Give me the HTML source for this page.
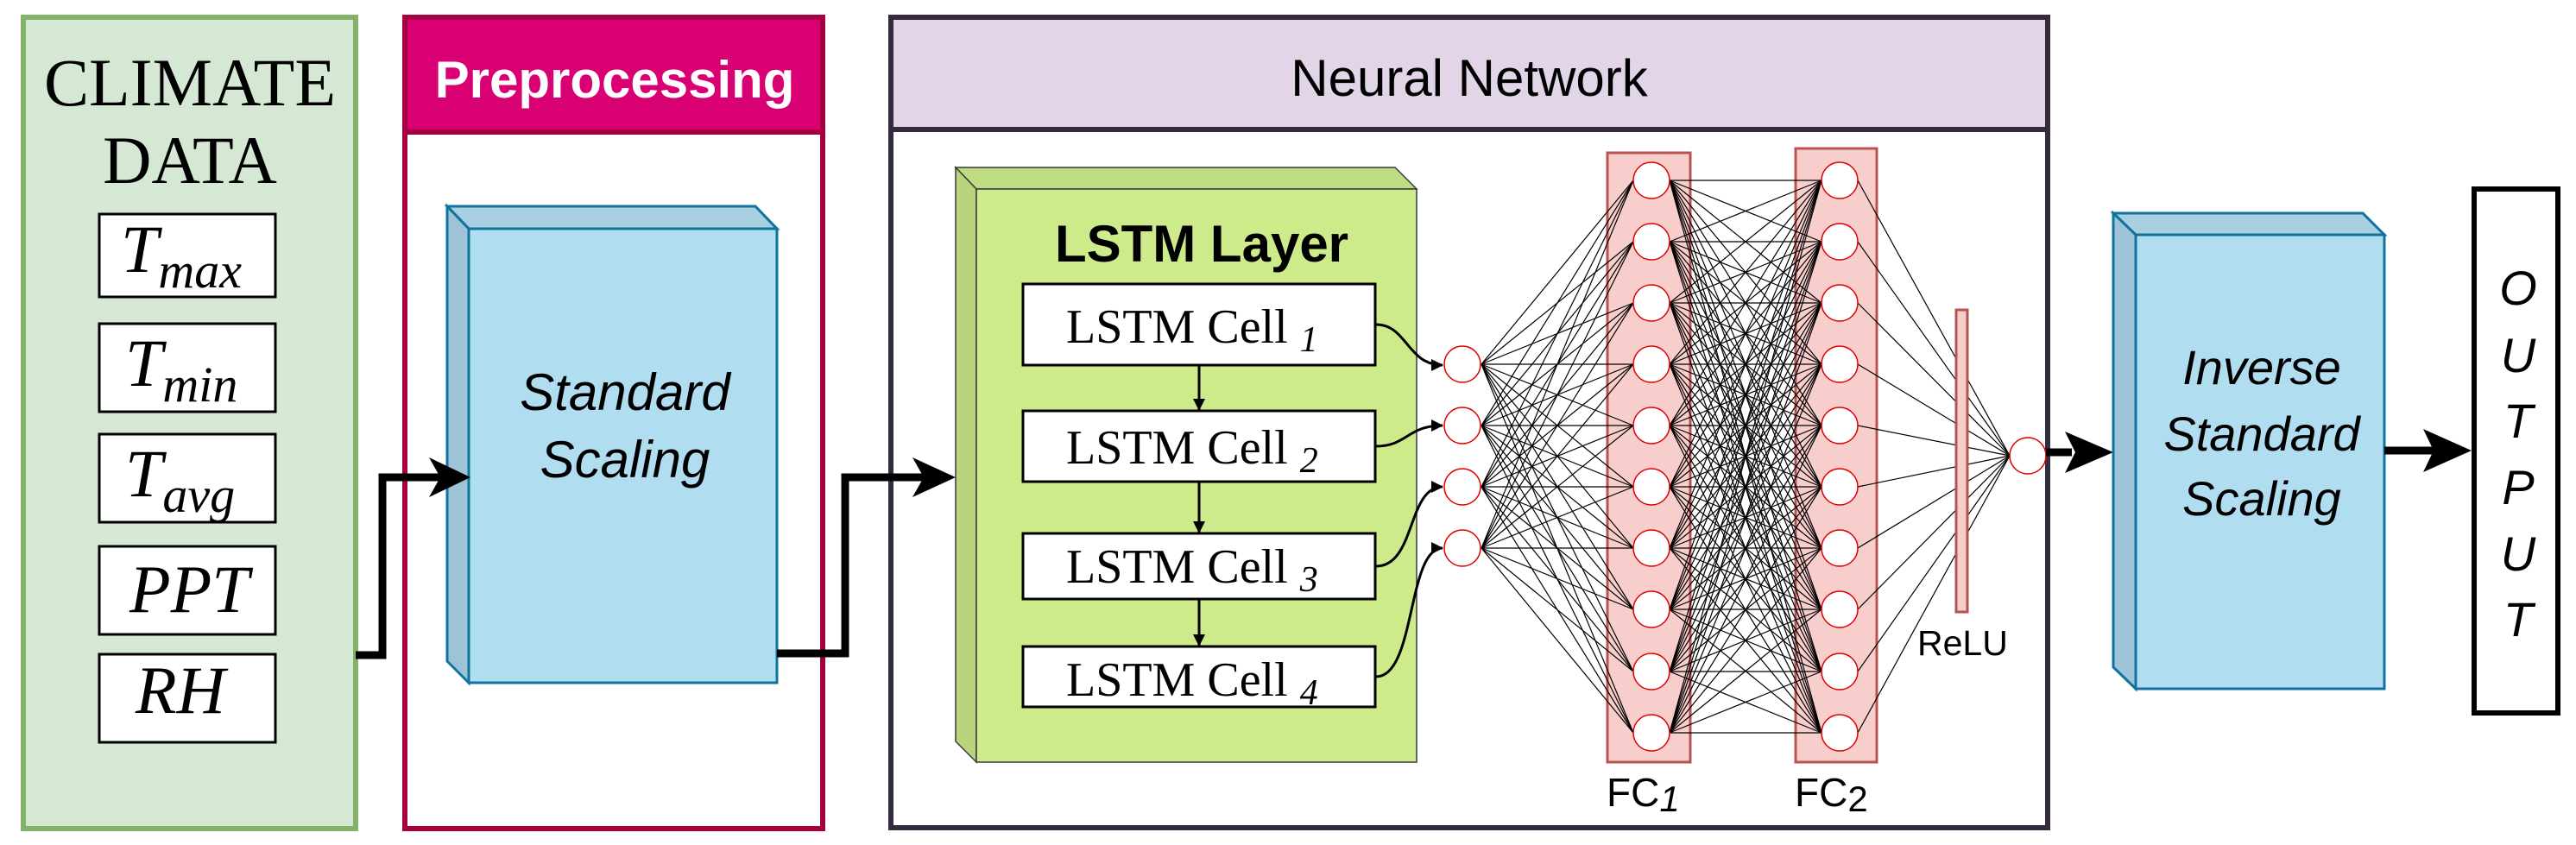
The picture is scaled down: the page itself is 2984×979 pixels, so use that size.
<!DOCTYPE html>
<html><head><meta charset="utf-8"><style>html,body{margin:0;padding:0;background:#fff}svg{display:block}</style></head>
<body>
<svg width="2984" height="979" viewBox="0 0 2984 979" xmlns="http://www.w3.org/2000/svg">
<defs>
<marker id="ah" markerWidth="14" markerHeight="14" refX="13" refY="7" orient="auto" markerUnits="userSpaceOnUse"><path d="M0,0 L14,7 L0,14 Z" fill="#000"/></marker>
</defs>
<!-- Climate -->
<rect x="27" y="20" width="385" height="940" fill="#d5e8d4" stroke="#82b366" stroke-width="6"/>
<g font-family="Liberation Serif, serif" fill="#000">
<text x="220" y="122" font-size="78" text-anchor="middle">CLIMATE</text>
<text x="220" y="212" font-size="78" text-anchor="middle">DATA</text>
</g>
<g fill="#fff" stroke="#000" stroke-width="3">
<rect x="115" y="248" width="204" height="96"/>
<rect x="115" y="375" width="204" height="102"/>
<rect x="115" y="503" width="204" height="102"/>
<rect x="115" y="633" width="204" height="102"/>
<rect x="115" y="758" width="204" height="102"/>
</g>
<g font-family="Liberation Serif, serif" font-style="italic" fill="#000">
<text x="140" y="315" font-size="78">T<tspan font-size="58" dy="18">max</tspan></text>
<text x="145" y="447" font-size="78">T<tspan font-size="58" dy="18">min</tspan></text>
<text x="145" y="575" font-size="78">T<tspan font-size="58" dy="18">avg</tspan></text>
<text x="150" y="709" font-size="78">PPT</text>
<text x="157" y="826" font-size="78">RH</text>
</g>
<!-- Preprocessing -->
<rect x="469" y="20" width="484" height="940" fill="#fff" stroke="#a50040" stroke-width="6"/>
<rect x="469" y="20" width="484" height="133" fill="#d80073" stroke="#a50040" stroke-width="6"/>
<text x="712" y="113" font-family="Liberation Sans, sans-serif" font-weight="bold" font-size="60" fill="#fff" text-anchor="middle">Preprocessing</text>
<path d="M518,239 L875,239 L900,265 L543,265 Z" fill="#a8d0e0" stroke="#10739e" stroke-width="3"/>
<path d="M518,239 L543,265 L543,791 L518,766 Z" fill="#9fc3d6" stroke="#10739e" stroke-width="3"/>
<rect x="543" y="265" width="357" height="526" fill="#b1ddf0" stroke="#10739e" stroke-width="3"/>
<g font-family="Liberation Sans, sans-serif" font-style="italic" font-size="60" fill="#000" text-anchor="middle">
<text x="724" y="475">Standard</text><text x="724" y="553">Scaling</text>
</g>
<polyline points="412,759 443,759 443,553 520,553" fill="none" stroke="#000" stroke-width="9"/>
<path d="M497,530 L545,553 L497,576 L510,553 Z" fill="#000"/>
<!-- NN -->
<rect x="1032" y="20" width="1340" height="939" fill="#fff" stroke="#342b3e" stroke-width="6"/>
<rect x="1032" y="20" width="1340" height="130" fill="#e1d5e7" stroke="#342b3e" stroke-width="6"/>
<text x="1702" y="111" font-family="Liberation Sans, sans-serif" font-size="60" fill="#000" text-anchor="middle">Neural Network</text>
<polyline points="900,757 979,757 979,553 1085,553" fill="none" stroke="#000" stroke-width="9"/>
<path d="M1057,530 L1107,553 L1057,576 L1070,553 Z" fill="#000"/>
<!-- LSTM -->
<path d="M1107,194 L1616,194 L1641,219 L1131,219 Z" fill="#c0dc83" stroke="#36393d" stroke-width="1.5"/>
<path d="M1107,194 L1131,219 L1131,883 L1107,859 Z" fill="#b9d47d" stroke="#36393d" stroke-width="1.5"/>
<rect x="1131" y="219" width="510" height="664" fill="#cdeb8b" stroke="#36393d" stroke-width="1.5"/>
<text x="1392" y="303" font-family="Liberation Sans, sans-serif" font-weight="bold" font-size="60" fill="#000" text-anchor="middle">LSTM Layer</text>
<g fill="#fff" stroke="#000" stroke-width="3">
<rect x="1185" y="329" width="408" height="94"/>
<rect x="1185" y="476" width="408" height="82"/>
<rect x="1185" y="618" width="408" height="76"/>
<rect x="1185" y="749" width="408" height="70"/>
</g>
<g font-family="Liberation Serif, serif" font-size="56" fill="#000">
<text x="1235" y="397">LSTM Cell <tspan font-style="italic" font-size="42" dy="10">1</tspan></text>
<text x="1235" y="537">LSTM Cell <tspan font-style="italic" font-size="42" dy="10">2</tspan></text>
<text x="1235" y="675">LSTM Cell <tspan font-style="italic" font-size="42" dy="10">3</tspan></text>
<text x="1235" y="806">LSTM Cell <tspan font-style="italic" font-size="42" dy="10">4</tspan></text>
</g>
<g stroke="#000" stroke-width="3" fill="none" marker-end="url(#ah)">
<line x1="1389" y1="423" x2="1389" y2="475"/>
<line x1="1389" y1="558" x2="1389" y2="617"/>
<line x1="1389" y1="694" x2="1389" y2="748"/>
<path d="M1594,376 C1630,376 1630,423 1671,423"/>
<path d="M1594,517 C1630,517 1630,493 1671,493"/>
<path d="M1594,656 C1640,656 1630,564 1671,564"/>
<path d="M1594,784 C1640,784 1630,635 1671,635"/>
</g>
<!-- FC rects -->
<rect x="1862" y="177" width="96" height="706" fill="#f8cecc" stroke="#b85450" stroke-width="3"/>
<rect x="2080" y="172" width="94" height="711" fill="#f8cecc" stroke="#b85450" stroke-width="3"/>
<!-- connections -->
<g fill="none" stroke="#000" stroke-width="1.2">
<polyline points="1716,422 1892,209 1716,422 1892,280 1716,422 1892,351 1716,422 1892,422 1716,422 1892,493 1716,422 1892,564 1716,422 1892,635 1716,422 1892,706 1716,422 1892,778 1716,422 1892,849"/>
<polyline points="1716,493 1892,209 1716,493 1892,280 1716,493 1892,351 1716,493 1892,422 1716,493 1892,493 1716,493 1892,564 1716,493 1892,635 1716,493 1892,706 1716,493 1892,778 1716,493 1892,849"/>
<polyline points="1716,564 1892,209 1716,564 1892,280 1716,564 1892,351 1716,564 1892,422 1716,564 1892,493 1716,564 1892,564 1716,564 1892,635 1716,564 1892,706 1716,564 1892,778 1716,564 1892,849"/>
<polyline points="1716,635 1892,209 1716,635 1892,280 1716,635 1892,351 1716,635 1892,422 1716,635 1892,493 1716,635 1892,564 1716,635 1892,635 1716,635 1892,706 1716,635 1892,778 1716,635 1892,849"/>
<polyline points="1934,209 2110,209 1934,209 2110,280 1934,209 2110,351 1934,209 2110,422 1934,209 2110,493 1934,209 2110,564 1934,209 2110,635 1934,209 2110,706 1934,209 2110,778 1934,209 2110,849"/>
<polyline points="1934,280 2110,209 1934,280 2110,280 1934,280 2110,351 1934,280 2110,422 1934,280 2110,493 1934,280 2110,564 1934,280 2110,635 1934,280 2110,706 1934,280 2110,778 1934,280 2110,849"/>
<polyline points="1934,351 2110,209 1934,351 2110,280 1934,351 2110,351 1934,351 2110,422 1934,351 2110,493 1934,351 2110,564 1934,351 2110,635 1934,351 2110,706 1934,351 2110,778 1934,351 2110,849"/>
<polyline points="1934,422 2110,209 1934,422 2110,280 1934,422 2110,351 1934,422 2110,422 1934,422 2110,493 1934,422 2110,564 1934,422 2110,635 1934,422 2110,706 1934,422 2110,778 1934,422 2110,849"/>
<polyline points="1934,493 2110,209 1934,493 2110,280 1934,493 2110,351 1934,493 2110,422 1934,493 2110,493 1934,493 2110,564 1934,493 2110,635 1934,493 2110,706 1934,493 2110,778 1934,493 2110,849"/>
<polyline points="1934,564 2110,209 1934,564 2110,280 1934,564 2110,351 1934,564 2110,422 1934,564 2110,493 1934,564 2110,564 1934,564 2110,635 1934,564 2110,706 1934,564 2110,778 1934,564 2110,849"/>
<polyline points="1934,635 2110,209 1934,635 2110,280 1934,635 2110,351 1934,635 2110,422 1934,635 2110,493 1934,635 2110,564 1934,635 2110,635 1934,635 2110,706 1934,635 2110,778 1934,635 2110,849"/>
<polyline points="1934,706 2110,209 1934,706 2110,280 1934,706 2110,351 1934,706 2110,422 1934,706 2110,493 1934,706 2110,564 1934,706 2110,635 1934,706 2110,706 1934,706 2110,778 1934,706 2110,849"/>
<polyline points="1934,778 2110,209 1934,778 2110,280 1934,778 2110,351 1934,778 2110,422 1934,778 2110,493 1934,778 2110,564 1934,778 2110,635 1934,778 2110,706 1934,778 2110,778 1934,778 2110,849"/>
<polyline points="1934,849 2110,209 1934,849 2110,280 1934,849 2110,351 1934,849 2110,422 1934,849 2110,493 1934,849 2110,564 1934,849 2110,635 1934,849 2110,706 1934,849 2110,778 1934,849 2110,849"/>
<polyline points="2152,209 2328,528 2152,280 2328,528 2152,351 2328,528 2152,422 2328,528 2152,493 2328,528 2152,564 2328,528 2152,635 2328,528 2152,706 2328,528 2152,778 2328,528 2152,849 2328,528"/>
</g>
<rect x="2266" y="359" width="13" height="350" fill="#f8cecc" stroke="#b85450" stroke-width="3"/>
<!-- nodes -->
<g fill="#fff" stroke="#e00000" stroke-width="1.5">
<circle cx="1694" cy="422" r="21"/><circle cx="1694" cy="493" r="21"/><circle cx="1694" cy="564" r="21"/><circle cx="1694" cy="635" r="21"/>
<circle cx="1913" cy="209" r="21"/><circle cx="1913" cy="280" r="21"/><circle cx="1913" cy="351" r="21"/><circle cx="1913" cy="422" r="21"/><circle cx="1913" cy="493" r="21"/><circle cx="1913" cy="564" r="21"/><circle cx="1913" cy="635" r="21"/><circle cx="1913" cy="706" r="21"/><circle cx="1913" cy="778" r="21"/><circle cx="1913" cy="849" r="21"/>
<circle cx="2131" cy="209" r="21"/><circle cx="2131" cy="280" r="21"/><circle cx="2131" cy="351" r="21"/><circle cx="2131" cy="422" r="21"/><circle cx="2131" cy="493" r="21"/><circle cx="2131" cy="564" r="21"/><circle cx="2131" cy="635" r="21"/><circle cx="2131" cy="706" r="21"/><circle cx="2131" cy="778" r="21"/><circle cx="2131" cy="849" r="21"/>
<circle cx="2349" cy="528" r="21"/>
</g>
<g font-family="Liberation Sans, sans-serif" fill="#000" font-size="46">
<text x="1861" y="934">FC<tspan font-style="italic" font-size="42" dy="6">1</tspan></text>
<text x="2079" y="934">FC<tspan font-size="42" dy="6">2</tspan></text>
<text x="2221" y="759" font-size="41">ReLU</text>
</g>
<!-- arrow 3 -->
<line x1="2370" y1="524" x2="2400" y2="524" stroke="#000" stroke-width="9"/>
<path d="M2392,500 L2448,524 L2392,548 L2404,524 Z" fill="#000"/>
<!-- inverse -->
<path d="M2448,247 L2737,247 L2762,272 L2474,272 Z" fill="#a8d0e0" stroke="#10739e" stroke-width="3"/>
<path d="M2448,247 L2474,272 L2474,798 L2448,773 Z" fill="#9fc3d6" stroke="#10739e" stroke-width="3"/>
<rect x="2474" y="272" width="288" height="526" fill="#b1ddf0" stroke="#10739e" stroke-width="3"/>
<g font-family="Liberation Sans, sans-serif" font-style="italic" font-size="56" fill="#000" text-anchor="middle">
<text x="2620" y="445">Inverse</text><text x="2620" y="522">Standard</text><text x="2620" y="597">Scaling</text>
</g>
<line x1="2762" y1="522" x2="2820" y2="522" stroke="#000" stroke-width="9"/>
<path d="M2807,497 L2863,522 L2807,547 L2819,522 Z" fill="#000"/>
<!-- output -->
<rect x="2866" y="219" width="97" height="607" fill="#fff" stroke="#000" stroke-width="6"/>
<g font-family="Liberation Sans, sans-serif" font-style="italic" font-size="56" fill="#000" text-anchor="middle">
<text x="2917" y="353">O</text><text x="2917" y="431">U</text><text x="2917" y="507">T</text><text x="2917" y="584">P</text><text x="2917" y="661">U</text><text x="2917" y="737">T</text>
</g>
</svg>
</body></html>
